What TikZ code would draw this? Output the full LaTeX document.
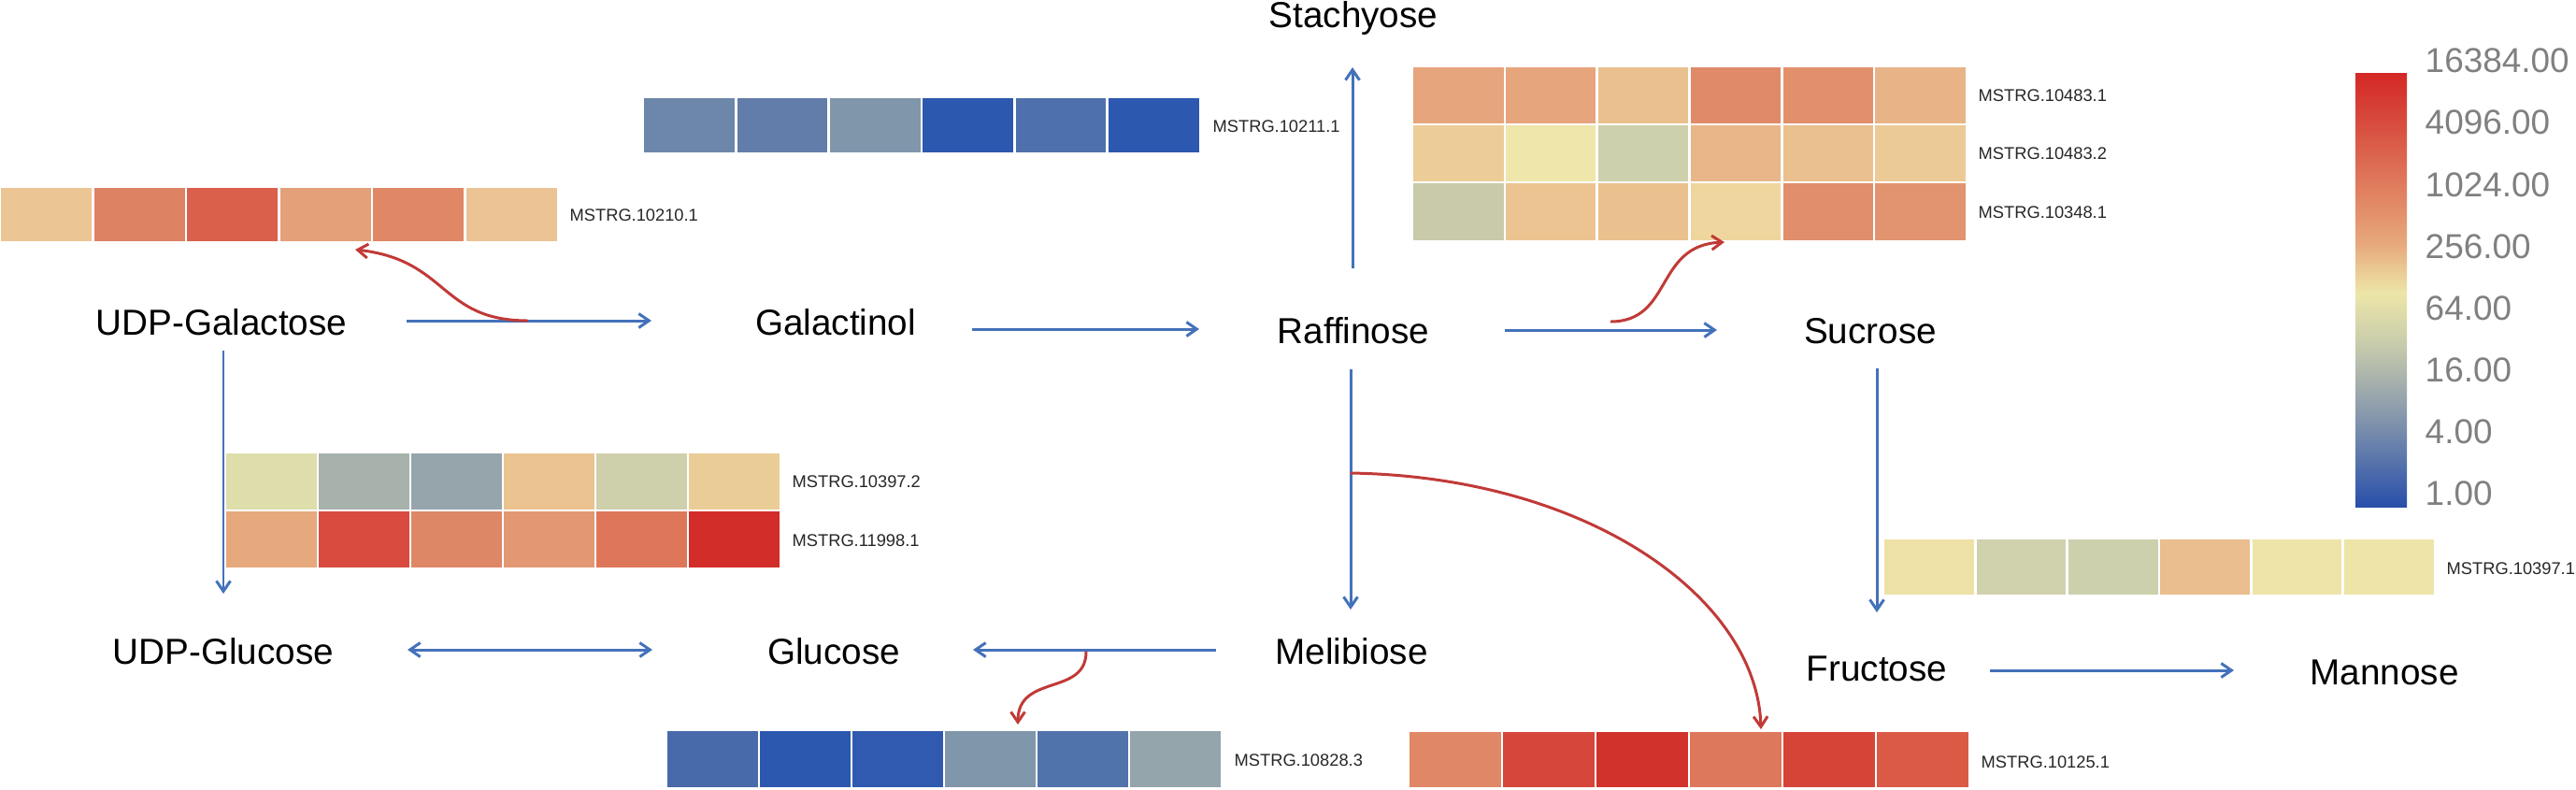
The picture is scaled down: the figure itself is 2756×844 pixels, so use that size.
\documentclass[tikz,border=0pt]{standalone}
\usepackage{fontspec}
\setmainfont{Liberation Sans}
\usetikzlibrary{arrows.meta}
\definecolor{arrowblue}{RGB}{68,114,186}
\definecolor{arrowred}{RGB}{192,58,55}
\definecolor{cbgray}{RGB}{128,128,128}
\definecolor{cb0}{RGB}{212,40,38}
\definecolor{cb1}{RGB}{216,82,66}
\definecolor{cb2}{RGB}{224,125,94}
\definecolor{cb3}{RGB}{231,168,124}
\definecolor{cb4}{RGB}{237,230,168}
\definecolor{cb5}{RGB}{202,205,172}
\definecolor{cb6}{RGB}{160,172,172}
\definecolor{cb7}{RGB}{110,133,172}
\definecolor{cb8}{RGB}{40,78,170}
\newcommand\hmrow[5]{%
  \pgfmathsetmacro\hmw{(#2-#1)/6}%
  \foreach \cR/\cG/\cB [count=\ci from 0] in {#5} {%
    \definecolor{hmc}{RGB}{\cR,\cG,\cB}%
    \fill[hmc] ({#1+\ci*\hmw+1.3},{#3+1.3}) rectangle ({#1+(\ci+1)*\hmw-1.3},{#4-1.3});
  }%
}
\begin{document}
\begin{tikzpicture}[x=0.01cm,y=-0.01cm,
  lab/.style={font=\fontsize{11}{13}\selectfont, inner sep=0pt, anchor=base},
  gene/.style={font=\fontsize{5.2}{6}\selectfont, inner sep=0pt, anchor=west, text=black!85},
  cblab/.style={font=\fontsize{10.5}{12}\selectfont, inner sep=0pt, anchor=west, text=cbgray},
  barrow/.style={draw=arrowblue, line width=0.85pt, -{Straight Barb[length=1.1mm,width=1.5mm]}},
  bdarrow/.style={draw=arrowblue, line width=0.85pt, {Straight Barb[length=1.1mm,width=1.5mm]}-{Straight Barb[length=1.1mm,width=1.5mm]}},
  rarrow/.style={draw=arrowred, line width=0.85pt, -{Straight Barb[length=1.1mm,width=1.5mm]}}]
\useasboundingbox (0,0) rectangle (2756,844);

% ---------- metabolite labels ----------
\node[lab] (stach) at (1448,29) {Stachyose};
\node[lab] (ugal)  at (237,358) {UDP-Galactose};
\node[lab] (galac) at (894,358) {Galactinol};
\node[lab] (raff)  at (1448,367) {Raffinose};
\node[lab] (sucr)  at (2001,367) {Sucrose};
\node[lab] (uglu)  at (239,710) {UDP-Glucose};
\node[lab] (gluc)  at (892,710) {Glucose};
\node[lab] (melib) at (1446,710) {Melibiose};
\node[lab] (fruc)  at (2008,728) {Fructose};
\node[lab] (mann)  at (2551,732) {Mannose};

% ---------- heatmaps ----------
\hmrow{0}{597}{200}{259}{236/197/148, 222/130/100, 218/96/75, 228/160/120, 224/135/102, 236/195/148}
\node[gene] (g10210) at (609,230) {MSTRG.10210.1};

\hmrow{688}{1284}{104}{164}{108/135/170, 98/125/170, 128/150/170, 45/88/175, 78/112/172, 45/88/175}
\node[gene] (g10211) at (1297,135) {MSTRG.10211.1};

\hmrow{1511}{2104}{71}{133}{230/165/125, 230/165/125, 234/192/142, 224/138/105, 226/143/108, 232/180/135}
\hmrow{1511}{2104}{133}{195}{236/205/152, 238/230/170, 205/208/172, 232/182/136, 234/192/142, 236/202/150}
\hmrow{1511}{2104}{195}{258}{200/202/170, 236/196/146, 234/192/142, 238/214/158, 224/142/108, 226/148/112}
\node[gene] (g104831) at (2116,102) {MSTRG.10483.1};
\node[gene] (g104832) at (2116,164) {MSTRG.10483.2};
\node[gene] (g103481) at (2116,227) {MSTRG.10348.1};

\hmrow{241}{835}{484}{546}{222/222/172, 168/178/172, 150/165/172, 234/195/145, 206/208/172, 234/205/150}
\hmrow{241}{835}{546}{608}{230/168/125, 216/75/62, 222/135/102, 226/152/115, 222/118/90, 210/45/40}
\node[gene] (g103972) at (847,515) {MSTRG.10397.2};
\node[gene] (g119981) at (847,578) {MSTRG.11998.1};

\hmrow{713}{1307}{781}{843}{72/105/170, 45/88/175, 48/90/175, 128/150/170, 80/115/172, 148/165/172}
\node[gene] (g108283) at (1320,813) {MSTRG.10828.3};

\hmrow{1507}{2107}{782}{843}{224/135/102, 214/70/58, 210/50/44, 222/120/92, 214/68/56, 218/90/70}
\node[gene] (g101251) at (2119,815) {MSTRG.10125.1};

\hmrow{2015}{2605}{576}{637}{238/225/166, 208/210/174, 205/208/172, 234/190/142, 238/228/168, 238/228/168}
\node[gene] (g103971) at (2617,608) {MSTRG.10397.1};

% ---------- colour bar ----------
\foreach \ya/\yb/\ca/\cb in {78/140/cb0/cb1, 140/200/cb1/cb2, 200/260/cb2/cb3, 260/313/cb3/cb4, 313/365/cb4/cb5, 365/415/cb5/cb6, 415/470/cb6/cb7, 470/542/cb7/cb8}{
  \shade[top color=\ca, bottom color=\cb] (2520,\ya) rectangle (2575,\yb+0.6);
}
\foreach \t [count=\k from 0] in {16384.00,4096.00,1024.00,256.00,64.00,16.00,4.00,1.00}{
  \node[cblab] (cbl\k) at (2594,{65+\k*66.14}) {\t};
}

% ---------- blue reaction arrows ----------
\coordinate (a1s) at (435,343);  \coordinate (a1e) at (697,343);
\coordinate (a2s) at (1040,352); \coordinate (a2e) at (1283,352);
\coordinate (a3s) at (1610,353); \coordinate (a3e) at (1837,353);
\coordinate (a4s) at (1447,287); \coordinate (a4e) at (1447,72);
\coordinate (a5s) at (1445,395); \coordinate (a5e) at (1445,652);
\coordinate (a6s) at (239,375);  \coordinate (a6e) at (239,635);
\coordinate (a7s) at (2008,394); \coordinate (a7e) at (2008,655);
\coordinate (a8s) at (1301,695); \coordinate (a8e) at (1041,695);
\coordinate (a9s) at (436,695);  \coordinate (a9e) at (698,695);
\coordinate (a10s) at (2129,717); \coordinate (a10e) at (2390,717);
\draw[barrow] (a1s) -- (a1e);
\draw[barrow] (a2s) -- (a2e);
\draw[barrow] (a3s) -- (a3e);
\draw[barrow] (a4s) -- (a4e);
\draw[barrow] (a5s) -- (a5e);
\draw[barrow] (a6s) -- (a6e);
\draw[barrow] (a7s) -- (a7e);
\draw[barrow] (a8s) -- (a8e);
\draw[bdarrow] (a9s) -- (a9e);
\draw[barrow] (a10s) -- (a10e);

% ---------- red gene arrows ----------
\coordinate (r1s) at (565,343);  \coordinate (r1e) at (380,267);
\coordinate (r2s) at (1723,344); \coordinate (r2e) at (1845,259);
\coordinate (r3s) at (1162,697); \coordinate (r3e) at (1089,775);
\coordinate (r4s) at (1445,506); \coordinate (r4e) at (1884,780);
\draw[rarrow] (r1s) .. controls (470,343) and (480,278) .. (r1e);
\draw[rarrow] (r2s) .. controls (1790,344) and (1770,262) .. (r2e);
\draw[rarrow] (r3s) .. controls (1162,745) and (1089,720) .. (r3e);
\draw[rarrow] (r4s) .. controls (1700,510) and (1880,640) .. (r4e);
\end{tikzpicture}
\end{document}
